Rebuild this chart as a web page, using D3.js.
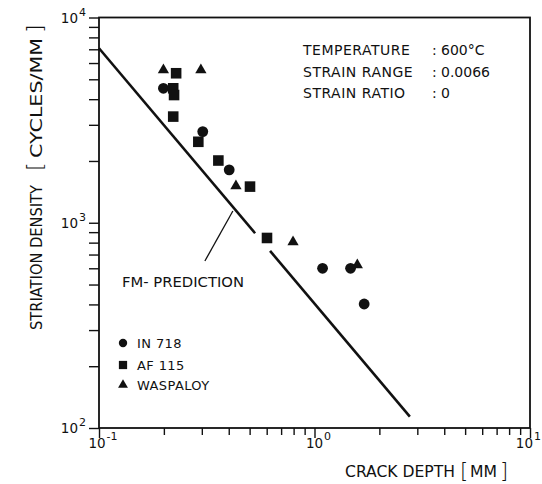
<!DOCTYPE html>
<html>
<head>
<meta charset="utf-8">
<script src="https://cdn.jsdelivr.net/npm/d3@7/dist/d3.min.js"></script>
<style>
  html, body { margin: 0; padding: 0; background: #fff; }
  svg { display: block; }
  text { font-family: "DejaVu Sans", sans-serif; fill: #111; }
</style>
</head>
<body>
<svg id="chart" width="542" height="484"></svg>
<script>
// Striation density vs crack depth, log-log
const xDecades = [0.1, 1, 10];
const xDecadeExponents = ["-1", "0", "1"];
const yDecades = [100, 1000, 10000];
const yDecadeExponents = ["2", "3", "4"];

// Measured striation densities [cycles/mm] at crack depth [mm]
const in718Depth = [0.199, 0.303, 0.402, 1.09, 1.47, 1.70];
const in718Density = [4520, 2780, 1810, 600, 600, 402];
const af115Depth = [0.228, 0.221, 0.223, 0.221, 0.289, 0.358, 0.502, 0.602];
const af115Density = [5350, 4520, 4190, 3290, 2480, 2010, 1500, 843];
const waspaloyDepth = [0.199, 0.297, 0.432, 0.795, 1.58];
const waspaloyDensity = [5550, 5550, 1510, 806, 623];

// FM prediction line (interrupted where it passes a data point)
const predictionSegments = [
  [[0.1, 7080], [0.53, 889]],
  [[0.622, 729], [2.77, 113.5]]
];
const predictionLeader = [[0.418, 1141], [0.310, 651]];

const legendItems = ["IN 718", "AF 115", "WASPALOY"];
const conditionLabels = ["TEMPERATURE", "STRAIN RANGE", "STRAIN RATIO"];
const conditionValues = ["600°C", "0.0066", "0"];

const svg = d3.select("#chart");
svg.append("rect").attr("width", 542).attr("height", 484).attr("fill", "#fff");

const x = d3.scaleLog().domain([0.1, 10]).range([99, 530]);
const y = d3.scaleLog().domain([100, 10000]).range([428, 17.5]);

const ink = "#111";

// tick values: 1..9 per decade
const xTicks = [];
[0.1, 1].forEach(d => { for (let k = 1; k <= 9; k++) xTicks.push(+(d * k).toPrecision(3)); });
xTicks.push(10);
const yTicks = [];
[100, 1000].forEach(d => { for (let k = 1; k <= 9; k++) yTicks.push(d * k); });
yTicks.push(10000);

const isMajor = v => Math.abs(Math.log10(v) - Math.round(Math.log10(v))) < 1e-6;

const gx = svg.append("g").attr("transform", "translate(0,428)")
  .call(d3.axisBottom(x).tickValues(xTicks).tickFormat("").tickSize(7).tickSizeOuter(0));
gx.select(".domain").remove();
gx.selectAll(".tick line").attr("stroke", ink).attr("stroke-width", 1.4)
  .attr("y2", d => isMajor(d) ? 10 : 7);

const gy = svg.append("g").attr("transform", "translate(99,0)")
  .call(d3.axisLeft(y).tickValues(yTicks).tickFormat("").tickSize(10).tickSizeOuter(0));
gy.select(".domain").remove();
gy.selectAll(".tick line").attr("stroke", ink).attr("stroke-width", 1.4);

// frame
svg.append("rect")
  .attr("x", x(0.1)).attr("y", y(10000))
  .attr("width", x(10) - x(0.1)).attr("height", y(100) - y(10000))
  .attr("fill", "none").attr("stroke", ink).attr("stroke-width", 1.8);

// decade labels with superscript exponents
xDecades.forEach((v, i) => {
  const last = i === xDecades.length - 1;
  const t = svg.append("text")
    .attr("x", last ? 541 : x(v) + 4).attr("y", 448)
    .attr("text-anchor", last ? "end" : "middle").attr("font-size", 13.5);
  t.append("tspan").text("10");
  t.append("tspan").attr("dy", -8).attr("dx", 1).attr("font-size", 11).text(xDecadeExponents[i]);
});
yDecades.forEach((v, i) => {
  const t = svg.append("text").attr("x", 86).attr("y", y(v) + 5)
    .attr("text-anchor", "end").attr("font-size", 13.5);
  t.append("tspan").text("10");
  t.append("tspan").attr("dy", -7).attr("dx", 1).attr("font-size", 11).text(yDecadeExponents[i]);
});

// axis titles
const xt = svg.append("g");
xt.append("text").attr("x", 345).attr("y", 477).attr("font-size", 15)
  .attr("textLength", 110).attr("lengthAdjust", "spacingAndGlyphs").text("CRACK DEPTH");
xt.append("text").attr("x", 460).attr("y", 478).attr("font-size", 21).attr("font-weight", 300).text("[");
xt.append("text").attr("x", 470).attr("y", 477).attr("font-size", 15)
  .attr("textLength", 27).attr("lengthAdjust", "spacingAndGlyphs").text("MM");
xt.append("text").attr("x", 500).attr("y", 478).attr("font-size", 21).attr("font-weight", 300).text("]");

const yt = svg.append("g").attr("transform", "translate(42,0)");
const rot = (yy) => `translate(0,${yy}) rotate(-90)`;
yt.append("text").attr("transform", rot(330)).attr("font-size", 16)
  .attr("textLength", 145).attr("lengthAdjust", "spacingAndGlyphs").text("STRIATION DENSITY");
yt.append("text").attr("transform", rot(171)).attr("font-size", 22).attr("font-weight", 300).text("[");
yt.append("text").attr("transform", rot(158)).attr("font-size", 16)
  .attr("textLength", 120).attr("lengthAdjust", "spacingAndGlyphs").text("CYCLES/MM");
yt.append("text").attr("transform", rot(33)).attr("font-size", 22).attr("font-weight", 300).text("]");

// prediction line
const line = d3.line().x(d => x(d[0])).y(d => y(d[1]));
predictionSegments.forEach(seg => {
  svg.append("path").attr("d", line(seg)).attr("fill", "none")
    .attr("stroke", ink).attr("stroke-width", 2.6).attr("stroke-linecap", "butt");
});
svg.append("path").attr("d", line(predictionLeader)).attr("fill", "none")
  .attr("stroke", ink).attr("stroke-width", 1.3);
svg.append("text").attr("x", 122).attr("y", 287).attr("font-size", 14)
  .attr("textLength", 122).attr("lengthAdjust", "spacingAndGlyphs").text("FM- PREDICTION");

// data markers
svg.append("g").selectAll("circle")
  .data(d3.zip(in718Depth, in718Density)).join("circle")
  .attr("cx", d => x(d[0])).attr("cy", d => y(d[1])).attr("r", 5.4).attr("fill", ink);

svg.append("g").selectAll("path")
  .data(d3.zip(af115Depth, af115Density)).join("path")
  .attr("transform", d => `translate(${x(d[0])},${y(d[1])})`)
  .attr("d", d3.symbol(d3.symbolSquare, 112)).attr("fill", ink);

svg.append("g").selectAll("path")
  .data(d3.zip(waspaloyDepth, waspaloyDensity)).join("path")
  .attr("transform", d => `translate(${x(d[0])},${y(d[1])})`)
  .attr("d", d3.symbol(d3.symbolTriangle, 55)).attr("fill", ink);

// legend
const legendY = [343, 365, 385];
const legendSymbols = [d3.symbolCircle, d3.symbolSquare, d3.symbolTriangle];
const legendSizes = [55, 68, 42];
legendItems.forEach((name, i) => {
  svg.append("path").attr("transform", `translate(123,${legendY[i]})`)
    .attr("d", d3.symbol(legendSymbols[i], legendSizes[i])).attr("fill", ink);
  svg.append("text").attr("x", 137).attr("y", legendY[i] + 5).attr("font-size", 13)
    .attr("letter-spacing", 0.4).text(name);
});

// test conditions
const condY = [55, 76.5, 98];
conditionLabels.forEach((lab, i) => {
  svg.append("text").attr("x", 303).attr("y", condY[i]).attr("font-size", 14)
    .attr("letter-spacing", 0.5).text(lab);
  svg.append("text").attr("x", 432).attr("y", condY[i]).attr("font-size", 14).text(":");
  svg.append("text").attr("x", 441).attr("y", condY[i]).attr("font-size", 14).text(conditionValues[i]);
});
</script>
</body>
</html>
